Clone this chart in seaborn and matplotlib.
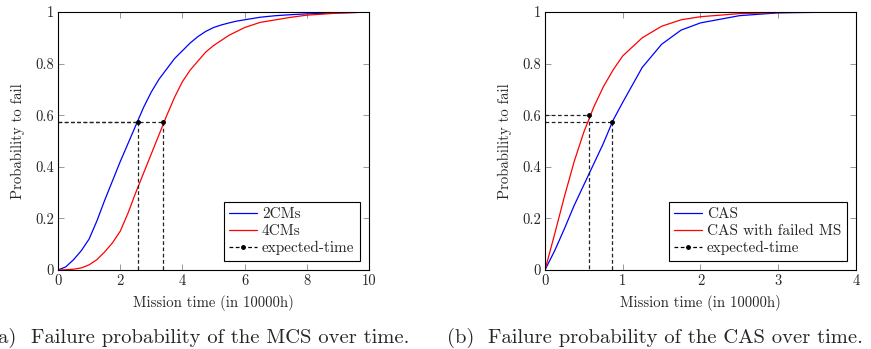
import numpy as np
import pandas as pd
import matplotlib
matplotlib.use('Agg')
import matplotlib.pyplot as plt
import seaborn as sns
from matplotlib.lines import Line2D

# ---- data ----
# (a) MCS
t_mcs = [0, 0.25, 0.5, 0.75, 1, 1.25, 1.5, 1.75, 2, 2.25, 2.5, 2.75, 3, 3.25, 3.5, 3.75,
         4, 4.25, 4.5, 4.75, 5, 5.25, 5.5, 5.75, 6, 6.5, 7, 7.5, 8, 9, 10]
p_2cms = [0, 0.012, 0.04, 0.075, 0.12, 0.19, 0.27, 0.345, 0.42, 0.49, 0.56, 0.63, 0.69,
          0.74, 0.78, 0.82, 0.85, 0.88, 0.905, 0.925, 0.94, 0.95, 0.958, 0.965, 0.97,
          0.98, 0.986, 0.99, 0.993, 0.997, 1.0]
p_4cms = [0, 0.001, 0.003, 0.008, 0.02, 0.04, 0.07, 0.105, 0.15, 0.22, 0.3, 0.375, 0.45,
          0.525, 0.6, 0.67, 0.73, 0.775, 0.81, 0.845, 0.87, 0.89, 0.91, 0.925, 0.94,
          0.96, 0.97, 0.98, 0.988, 0.996, 1.0]
exp_t_mcs = [2.57, 3.38]
exp_p_mcs = [0.575, 0.575]

# (b) CAS
t_cas = [0, 0.125, 0.25, 0.375, 0.5, 0.625, 0.75, 0.875, 1, 1.25, 1.5, 1.75, 2, 2.5, 3, 3.5, 4]
p_cas = [0, 0.075, 0.16, 0.25, 0.33, 0.41, 0.49, 0.58, 0.65, 0.785, 0.875, 0.93, 0.958,
         0.986, 0.997, 0.999, 1.0]
p_cas_failed = [0, 0.14, 0.285, 0.42, 0.535, 0.63, 0.71, 0.775, 0.83, 0.9, 0.945, 0.97,
                0.982, 0.994, 0.998, 1.0, 1.0]
exp_t_cas = [0.86, 0.57]
exp_p_cas = [0.575, 0.60]

sns.set_theme(style='ticks')
plt.rcParams['font.family'] = ['cmr10', 'DejaVu Serif']
plt.rcParams['axes.formatter.use_mathtext'] = True
plt.rcParams['mathtext.fontset'] = 'cm'

fig = plt.figure(figsize=(8.71, 3.49), dpi=100)
ax1 = fig.add_axes([0.0666, 0.2264, 0.357, 0.739])
ax2 = fig.add_axes([0.6257, 0.2264, 0.357, 0.739])


def expected_lines(ax, xs, ys):
    for x, y in zip(xs, ys):
        ax.plot([0, x], [y, y], ls=(0, (3, 2)), color='#222222', lw=0.9)
        ax.plot([x, x], [y, 0], ls=(0, (3, 2)), color='#222222', lw=0.9)
    ax.plot(xs, ys, ls='none', marker='o', ms=2.5, color='black')


def style_axes(ax, xmax, xticks):
    ax.set_xlim(0, xmax)
    ax.set_ylim(0, 1)
    ax.set_xticks(xticks)
    ax.set_xticklabels([str(v) for v in xticks])
    ax.set_yticks([0, 0.2, 0.4, 0.6, 0.8, 1])
    ax.set_yticklabels(['0', '0.2', '0.4', '0.6', '0.8', '1'])
    ax.tick_params(direction='in', top=True, right=True, length=4, width=0.6,
                   color='#888888', labelsize=10.5, pad=3)
    for s in ax.spines.values():
        s.set_visible(True)
        s.set_linewidth(0.8)
        s.set_color('black')
    ax.set_xlabel('Mission time (in 10000h)', fontsize=10.6, labelpad=5)
    ax.set_ylabel('Probability to fail', fontsize=10.6, labelpad=7)


# ---- (a) ----
df_a = pd.DataFrame({'t': t_mcs * 2, 'p': p_2cms + p_4cms,
                     'series': ['2CMs'] * len(t_mcs) + ['4CMs'] * len(t_mcs)})
sns.lineplot(data=df_a, x='t', y='p', hue='series', palette=['blue', 'red'],
             lw=0.9, ax=ax1, legend=False)
expected_lines(ax1, exp_t_mcs, exp_p_mcs)
style_axes(ax1, 10, [0, 2, 4, 6, 8, 10])

# ---- (b) ----
df_b = pd.DataFrame({'t': t_cas * 2, 'p': p_cas + p_cas_failed,
                     'series': ['CAS'] * len(t_cas) + ['CAS with failed MS'] * len(t_cas)})
sns.lineplot(data=df_b, x='t', y='p', hue='series', palette=['blue', 'red'],
             lw=0.9, ax=ax2, legend=False)
expected_lines(ax2, exp_t_cas, exp_p_cas)
style_axes(ax2, 4, [0, 1, 2, 3, 4])


def make_legend(ax, labels):
    handles = [Line2D([], [], color='blue', lw=0.9),
               Line2D([], [], color='red', lw=0.9),
               Line2D([], [], color='black', lw=0.9, ls=(0, (3, 2)), marker='o', ms=2.5)]
    leg = ax.legend(handles, labels, loc='lower right', fontsize=11, frameon=True,
                    fancybox=False, edgecolor='black', framealpha=1,
                    borderaxespad=0.6, handlelength=1.8, handletextpad=0.35,
                    labelspacing=0.2, borderpad=0.35)
    leg.get_frame().set_linewidth(0.8)


make_legend(ax1, ['2CMs', '4CMs', 'expected-time'])
make_legend(ax2, ['CAS', 'CAS with failed MS', 'expected-time'])

# sub-captions: label and text placed like a LaTeX subcaption
cap_y = 0.018
fig.text(-0.0118, cap_y, '(a)', fontsize=14.8, ha='left', va='baseline')
fig.text(0.0352, cap_y, 'Failure probability of the MCS over time.', fontsize=14.8,
         ha='left', va='baseline')
fig.text(0.5129, cap_y, '(b)', fontsize=14.8, ha='left', va='baseline')
fig.text(0.5606, cap_y, 'Failure probability of the CAS over time.', fontsize=14.8,
         ha='left', va='baseline')

fig.savefig('out.png', dpi=100)
